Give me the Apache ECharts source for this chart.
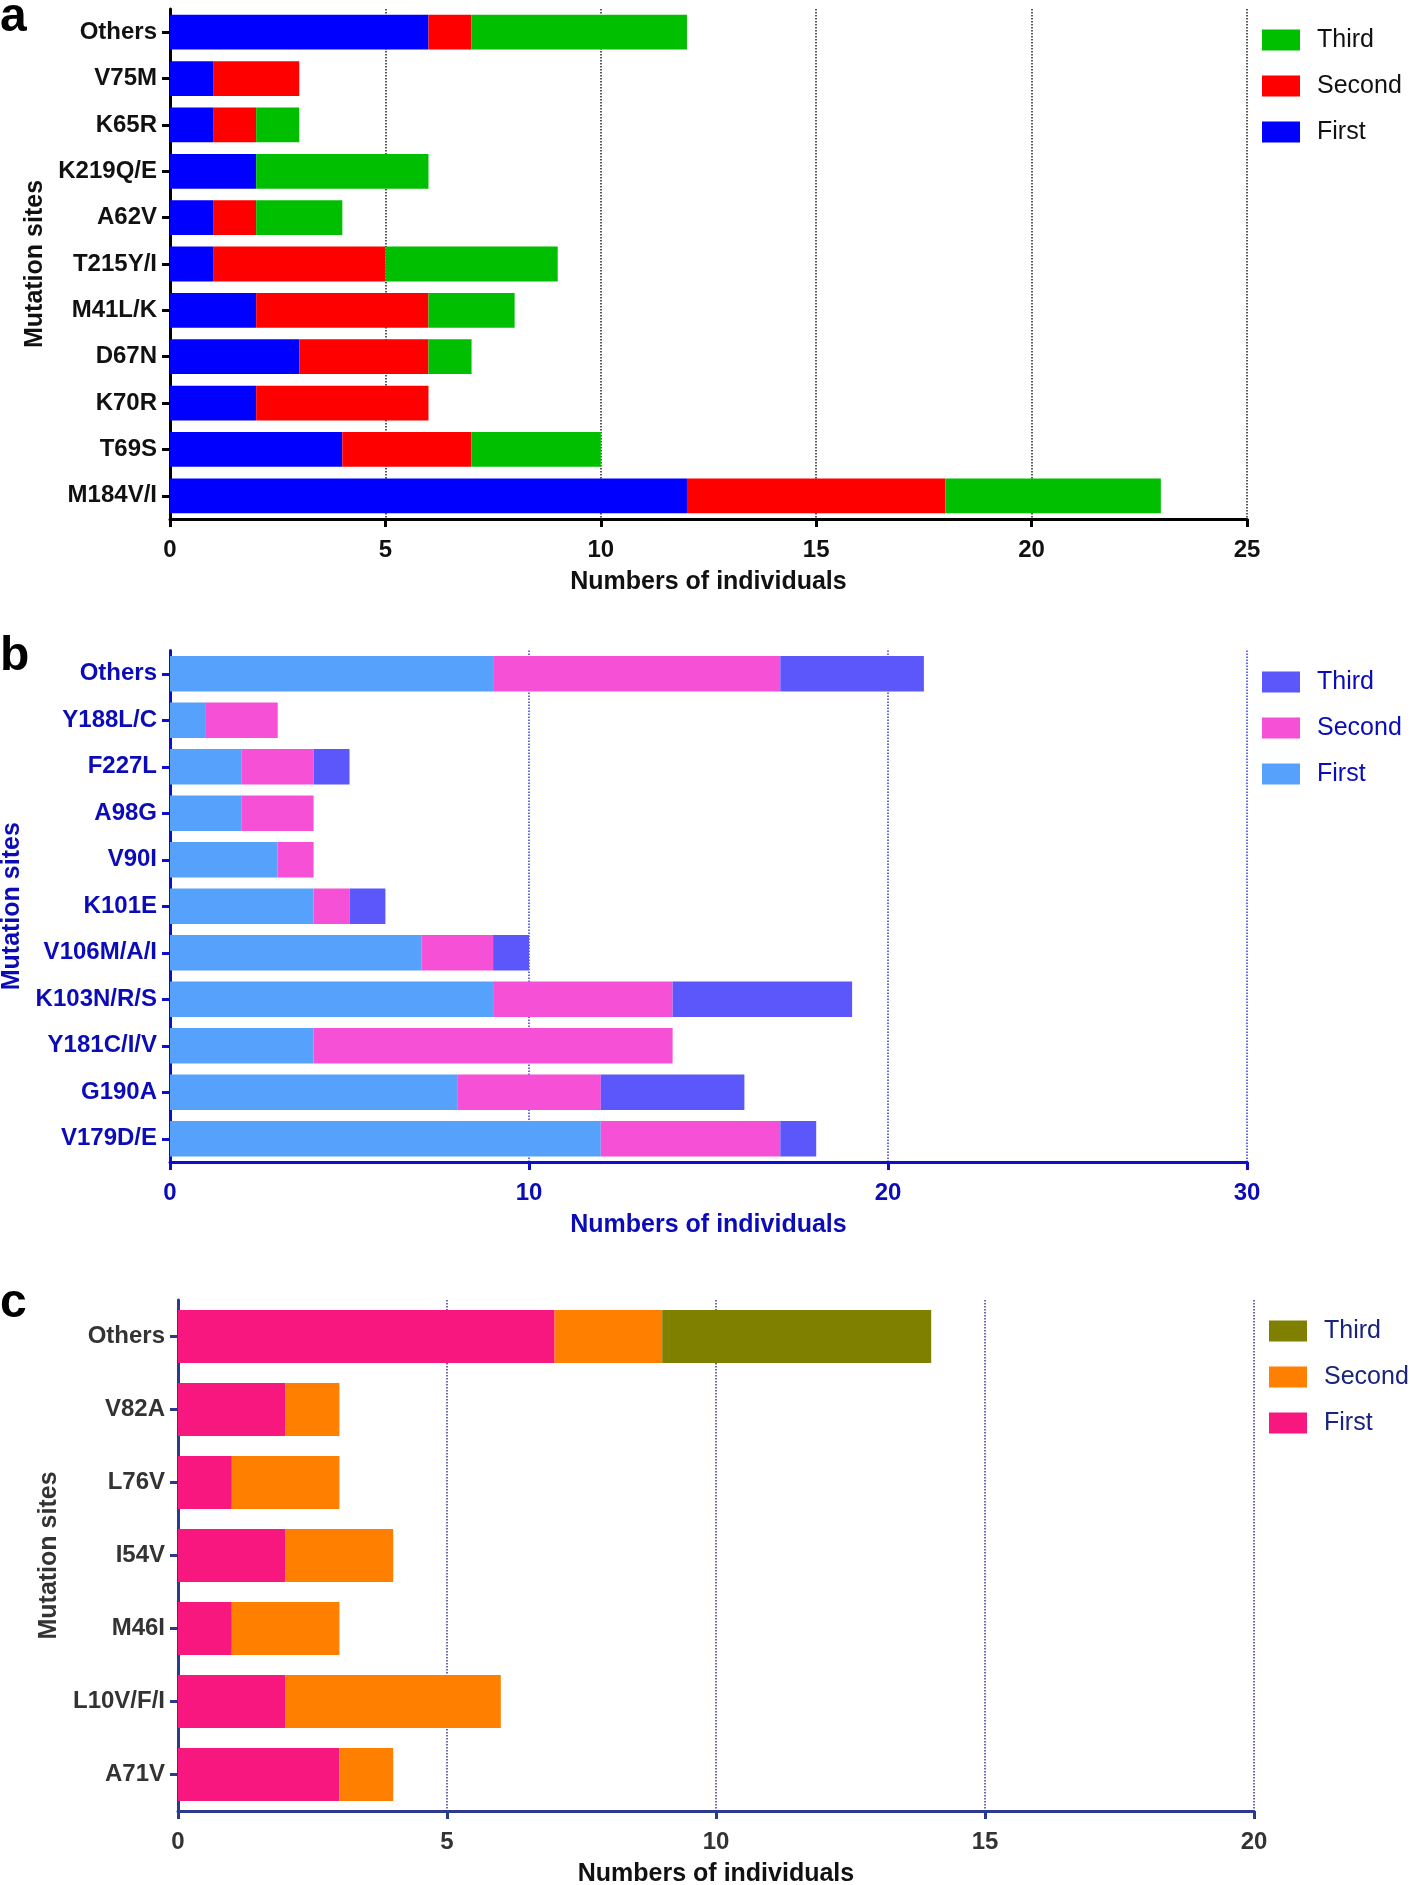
<!DOCTYPE html>
<html>
<head>
<meta charset="utf-8">
<script src="https://cdn.jsdelivr.net/npm/echarts@6.0.0/dist/echarts.min.js"></script>
<style>
  html, body { margin: 0; padding: 0; background: #fff; }
  #chart { width: 1418px; height: 1885px; }
</style>
</head>
<body>
<div id="chart"></div>
<script>
// 数据 a: NRTI
const sitesA = ['Others', 'V75M', 'K65R', 'K219Q/E', 'A62V', 'T215Y/I', 'M41L/K', 'D67N', 'K70R', 'T69S', 'M184V/I'];
const firstA = [6, 1, 1, 2, 1, 1, 2, 3, 2, 4, 12];
const secondA = [1, 2, 1, 0, 1, 4, 4, 3, 4, 3, 6];
const thirdA = [5, 0, 1, 4, 2, 4, 2, 1, 0, 3, 5];

// 数据 b: NNRTI
const sitesB = ['Others', 'Y188L/C', 'F227L', 'A98G', 'V90I', 'K101E', 'V106M/A/I', 'K103N/R/S', 'Y181C/I/V', 'G190A', 'V179D/E'];
const firstB = [9, 1, 2, 2, 3, 4, 7, 9, 4, 8, 12];
const secondB = [8, 2, 2, 2, 1, 1, 2, 5, 10, 4, 5];
const thirdB = [4, 0, 1, 0, 0, 1, 1, 5, 0, 4, 1];

// 数据 c: PI
const sitesC = ['Others', 'V82A', 'L76V', 'I54V', 'M46I', 'L10V/F/I', 'A71V'];
const firstC = [7, 2, 1, 2, 1, 2, 3];
const secondC = [2, 1, 2, 2, 2, 4, 1];
const thirdC = [5, 0, 0, 0, 0, 0, 0];

const FONT = '"Liberation Sans", Arial, sans-serif';

// 构建单个面板
function buildPanel(i, p) {
    const key = p.key;
    const axisLine = { show: true, lineStyle: { color: p.axisColor, width: 3 } };
    const axisTick = { show: true, length: 8, lineStyle: { color: p.axisColor, width: 3 } };
    const names = ['First', 'Second', 'Third'];
    const series = names.map((n, k) => ({
        type: 'bar',
        name: key + '|' + n,
        stack: key,
        xAxisIndex: i,
        yAxisIndex: i,
        barCategoryGap: p.gap,
        itemStyle: { color: p.colors[k] },
        data: p.values[k]
    }));
    return {
        grid: {
            left: p.grid[0], top: p.grid[1], width: p.grid[2], height: p.grid[3],
            containLabel: false, outerBoundsMode: 'none'
        },
        xAxis: {
            type: 'value',
            gridIndex: i,
            min: 0,
            max: p.max,
            interval: p.interval,
            axisLine, axisTick,
            axisLabel: { color: p.tickColor, fontSize: 24, fontWeight: 'bold', fontFamily: FONT, margin: 19 },
            splitLine: { show: true, lineStyle: { color: p.gridColor, type: 'dotted', width: 1.5 } },
            name: 'Numbers of individuals',
            nameLocation: 'middle',
            nameGap: 51,
            nameTextStyle: { color: p.xNameColor, fontSize: 25, fontWeight: 'bold', fontFamily: FONT }
        },
        yAxis: {
            type: 'category',
            gridIndex: i,
            inverse: true,
            data: p.sites,
            axisLine,
            axisTick: Object.assign({ alignWithLabel: true }, axisTick),
            axisLabel: { color: p.labelColor, fontSize: 24, fontWeight: 'bold', fontFamily: FONT, margin: 13 },
            splitLine: { show: false },
            name: 'Mutation sites',
            nameLocation: 'middle',
            nameRotate: 90,
            nameGap: p.yNameGap,
            nameTextStyle: { color: p.yNameColor, fontSize: 25, fontWeight: 'bold', fontFamily: FONT }
        },
        legend: {
            orient: 'vertical',
            left: p.legend[0],
            top: p.legend[1],
            padding: 0,
            itemWidth: 38,
            itemHeight: 21,
            itemGap: 21,
            icon: 'rect',
            data: [key + '|Third', key + '|Second', key + '|First'],
            formatter: name => name.split('|')[1],
            textStyle: { color: p.legendColor, fontSize: 25, fontFamily: FONT, padding: [0, 0, 0, 12] }
        },
        series
    };
}

const panels = [
    buildPanel(0, {
        key: 'a', sites: sitesA, values: [firstA, secondA, thirdA],
        colors: ['#0000ff', '#ff0000', '#00bf00'],
        grid: [170, 9, 1077, 510], max: 25, interval: 5, gap: '25%',
        axisColor: '#000', gridColor: '#222', tickColor: '#111', labelColor: '#111',
        xNameColor: '#111', yNameColor: '#111', legendColor: '#111',
        yNameGap: 122, legend: [1262, 27.5]
    }),
    buildPanel(1, {
        key: 'b', sites: sitesB, values: [firstB, secondB, thirdB],
        colors: ['#56a1fc', '#f550d6', '#5b57fb'],
        grid: [170, 650.5, 1077, 511.5], max: 30, interval: 10, gap: '24%',
        axisColor: '#0f0fc8', gridColor: '#3a3ae0', tickColor: '#0b0bb8', labelColor: '#0b0bb8',
        xNameColor: '#0b0bb8', yNameColor: '#0b0bb8', legendColor: '#0b0bb8',
        yNameGap: 138, legend: [1262, 669.5]
    }),
    buildPanel(2, {
        key: 'c', sites: sitesC, values: [firstC, secondC, thirdC],
        colors: ['#f7177f', '#ff7f00', '#808000'],
        grid: [178, 1300, 1076, 511], max: 20, interval: 5, gap: '27.5%',
        axisColor: '#2b3a8c', gridColor: '#3a3a9a', tickColor: '#333', labelColor: '#333',
        xNameColor: '#111', yNameColor: '#333', legendColor: '#1a237e',
        yNameGap: 113, legend: [1269, 1318.5]
    })
];

function initChart() {
    const chart = echarts.init(document.getElementById('chart'), null, { renderer: 'canvas' });
    const letterStyle = (t, y) => ({
        type: 'text', left: 0, top: y,
        style: { text: t, font: 'bold 48px ' + FONT, fill: '#000' }
    });
    const option = {
        animation: false,
        backgroundColor: '#fff',
        grid: panels.map(p => p.grid),
        xAxis: panels.map(p => p.xAxis),
        yAxis: panels.map(p => p.yAxis),
        legend: panels.map(p => p.legend),
        series: panels.flatMap(p => p.series),
        graphic: [
            letterStyle('a', -6),
            letterStyle('b', 633),
            letterStyle('c', 1280)
        ]
    };
    chart.setOption(option);
}

window.addEventListener('load', initChart);
</script>
</body>
</html>
